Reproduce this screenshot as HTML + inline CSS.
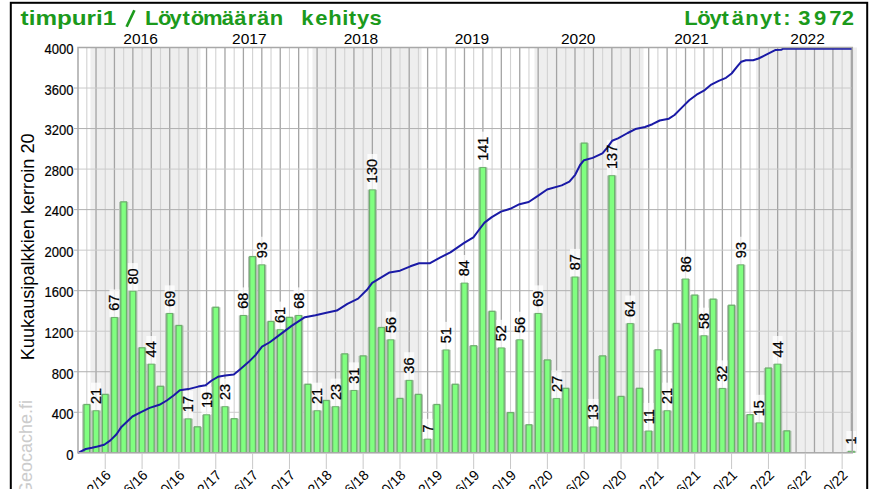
<!DOCTYPE html><html><head><meta charset="utf-8"><style>html,body{margin:0;padding:0;background:#fff;width:885px;height:489px;overflow:hidden}svg{display:block}text{font-family:"Liberation Sans",sans-serif}</style></head><body>
<svg width="885" height="489" viewBox="0 0 885 489">
<rect x="0" y="0" width="885" height="489" fill="#fff"/>
<rect x="10.8" y="2.8" width="856.4" height="600" fill="none" stroke="#000" stroke-width="2"/>
<text transform="translate(145.04,24.9) scale(1.100,1)" font-size="20.0" font-weight="bold" fill="#1c9a1c">L</text>
<text transform="translate(158.09,24.9) scale(1.100,1)" font-size="20.0" font-weight="bold" fill="#1c9a1c">ö</text>
<text transform="translate(169.48,24.9) scale(1.100,1)" font-size="20.0" font-weight="bold" fill="#1c9a1c">y</text>
<text transform="translate(182.43,24.9) scale(1.100,1)" font-size="20.0" font-weight="bold" fill="#1c9a1c">t</text>
<text transform="translate(190.64,24.9) scale(1.100,1)" font-size="20.0" font-weight="bold" fill="#1c9a1c">ö</text>
<text transform="translate(202.91,24.9) scale(1.100,1)" font-size="20.0" font-weight="bold" fill="#1c9a1c">m</text>
<text transform="translate(221.66,24.9) scale(1.100,1)" font-size="20.0" font-weight="bold" fill="#1c9a1c">ä</text>
<text transform="translate(234.31,24.9) scale(1.100,1)" font-size="20.0" font-weight="bold" fill="#1c9a1c">ä</text>
<text transform="translate(247.67,24.9) scale(1.100,1)" font-size="20.0" font-weight="bold" fill="#1c9a1c">r</text>
<text transform="translate(256.91,24.9) scale(1.100,1)" font-size="20.0" font-weight="bold" fill="#1c9a1c">ä</text>
<text transform="translate(269.79,24.9) scale(1.100,1)" font-size="20.0" font-weight="bold" fill="#1c9a1c">n</text>
<text transform="translate(301.36,24.9) scale(1.100,1)" font-size="20.0" font-weight="bold" fill="#1c9a1c">k</text>
<text transform="translate(315.28,24.9) scale(1.100,1)" font-size="20.0" font-weight="bold" fill="#1c9a1c">e</text>
<text transform="translate(328.36,24.9) scale(1.100,1)" font-size="20.0" font-weight="bold" fill="#1c9a1c">h</text>
<text transform="translate(342.26,24.9) scale(1.100,1)" font-size="20.0" font-weight="bold" fill="#1c9a1c">i</text>
<text transform="translate(348.83,24.9) scale(1.100,1)" font-size="20.0" font-weight="bold" fill="#1c9a1c">t</text>
<text transform="translate(357.03,24.9) scale(1.100,1)" font-size="20.0" font-weight="bold" fill="#1c9a1c">y</text>
<text transform="translate(369.61,24.9) scale(1.100,1)" font-size="20.0" font-weight="bold" fill="#1c9a1c">s</text>
<text transform="translate(684.34,24.9) scale(1.100,1)" font-size="20.0" font-weight="bold" fill="#1c9a1c">L</text>
<text transform="translate(697.19,24.9) scale(1.100,1)" font-size="20.0" font-weight="bold" fill="#1c9a1c">ö</text>
<text transform="translate(709.43,24.9) scale(1.100,1)" font-size="20.0" font-weight="bold" fill="#1c9a1c">y</text>
<text transform="translate(721.38,24.9) scale(1.100,1)" font-size="20.0" font-weight="bold" fill="#1c9a1c">t</text>
<text transform="translate(731.81,24.9) scale(1.100,1)" font-size="20.0" font-weight="bold" fill="#1c9a1c">ä</text>
<text transform="translate(745.24,24.9) scale(1.100,1)" font-size="20.0" font-weight="bold" fill="#1c9a1c">n</text>
<text transform="translate(760.03,24.9) scale(1.100,1)" font-size="20.0" font-weight="bold" fill="#1c9a1c">y</text>
<text transform="translate(773.53,24.9) scale(1.100,1)" font-size="20.0" font-weight="bold" fill="#1c9a1c">t</text>
<text transform="translate(783.29,24.9) scale(1.100,1)" font-size="20.0" font-weight="bold" fill="#1c9a1c">:</text>
<text transform="translate(798.31,24.9) scale(1.100,1)" font-size="20.0" font-weight="bold" fill="#1c9a1c">3</text>
<text transform="translate(813.93,24.9) scale(1.100,1)" font-size="20.0" font-weight="bold" fill="#1c9a1c">9</text>
<text transform="translate(829.31,24.9) scale(1.100,1)" font-size="20.0" font-weight="bold" fill="#1c9a1c">7</text>
<text transform="translate(841.76,24.9) scale(1.100,1)" font-size="20.0" font-weight="bold" fill="#1c9a1c">2</text>
<text x="20.60" y="24.9" font-size="20" font-weight="bold" fill="#1c9a1c" textLength="95.70" lengthAdjust="spacingAndGlyphs">timpuri1</text>
<line x1="126.6" y1="26.8" x2="134.4" y2="10.2" stroke="#1c9a1c" stroke-width="2.7"/>
<rect x="78.0" y="47.5" width="774.3" height="405.3" fill="#fff"/>
<rect x="90.5" y="47.5" width="110.0" height="405.3" fill="#eeeeee"/>
<rect x="312.5" y="47.5" width="109.0" height="405.3" fill="#eeeeee"/>
<rect x="534.5" y="47.5" width="109.0" height="405.3" fill="#eeeeee"/>
<rect x="756" y="47.5" width="101" height="405.3" fill="#eeeeee"/>
<line x1="86.81" y1="47.5" x2="86.81" y2="452.8" stroke="#d2d2d2" stroke-width="1.1"/>
<line x1="96.02" y1="47.5" x2="96.02" y2="452.8" stroke="#a4a4a4" stroke-width="1.3"/>
<line x1="105.23" y1="47.5" x2="105.23" y2="452.8" stroke="#d2d2d2" stroke-width="1.1"/>
<line x1="114.44" y1="47.5" x2="114.44" y2="452.8" stroke="#a4a4a4" stroke-width="1.3"/>
<line x1="123.65" y1="47.5" x2="123.65" y2="452.8" stroke="#d2d2d2" stroke-width="1.1"/>
<line x1="132.86" y1="47.5" x2="132.86" y2="452.8" stroke="#a4a4a4" stroke-width="1.3"/>
<line x1="142.08" y1="47.5" x2="142.08" y2="452.8" stroke="#d2d2d2" stroke-width="1.1"/>
<line x1="151.29" y1="47.5" x2="151.29" y2="452.8" stroke="#a4a4a4" stroke-width="1.3"/>
<line x1="160.50" y1="47.5" x2="160.50" y2="452.8" stroke="#d2d2d2" stroke-width="1.1"/>
<line x1="169.71" y1="47.5" x2="169.71" y2="452.8" stroke="#a4a4a4" stroke-width="1.3"/>
<line x1="178.92" y1="47.5" x2="178.92" y2="452.8" stroke="#d2d2d2" stroke-width="1.1"/>
<line x1="188.13" y1="47.5" x2="188.13" y2="452.8" stroke="#a4a4a4" stroke-width="1.3"/>
<line x1="197.34" y1="47.5" x2="197.34" y2="452.8" stroke="#d2d2d2" stroke-width="1.1"/>
<line x1="206.55" y1="47.5" x2="206.55" y2="452.8" stroke="#a4a4a4" stroke-width="1.3"/>
<line x1="215.77" y1="47.5" x2="215.77" y2="452.8" stroke="#d2d2d2" stroke-width="1.1"/>
<line x1="224.98" y1="47.5" x2="224.98" y2="452.8" stroke="#a4a4a4" stroke-width="1.3"/>
<line x1="234.19" y1="47.5" x2="234.19" y2="452.8" stroke="#d2d2d2" stroke-width="1.1"/>
<line x1="243.40" y1="47.5" x2="243.40" y2="452.8" stroke="#a4a4a4" stroke-width="1.3"/>
<line x1="252.61" y1="47.5" x2="252.61" y2="452.8" stroke="#d2d2d2" stroke-width="1.1"/>
<line x1="261.82" y1="47.5" x2="261.82" y2="452.8" stroke="#a4a4a4" stroke-width="1.3"/>
<line x1="271.03" y1="47.5" x2="271.03" y2="452.8" stroke="#d2d2d2" stroke-width="1.1"/>
<line x1="280.24" y1="47.5" x2="280.24" y2="452.8" stroke="#a4a4a4" stroke-width="1.3"/>
<line x1="289.46" y1="47.5" x2="289.46" y2="452.8" stroke="#d2d2d2" stroke-width="1.1"/>
<line x1="298.67" y1="47.5" x2="298.67" y2="452.8" stroke="#a4a4a4" stroke-width="1.3"/>
<line x1="307.88" y1="47.5" x2="307.88" y2="452.8" stroke="#d2d2d2" stroke-width="1.1"/>
<line x1="317.09" y1="47.5" x2="317.09" y2="452.8" stroke="#a4a4a4" stroke-width="1.3"/>
<line x1="326.30" y1="47.5" x2="326.30" y2="452.8" stroke="#d2d2d2" stroke-width="1.1"/>
<line x1="335.51" y1="47.5" x2="335.51" y2="452.8" stroke="#a4a4a4" stroke-width="1.3"/>
<line x1="344.72" y1="47.5" x2="344.72" y2="452.8" stroke="#d2d2d2" stroke-width="1.1"/>
<line x1="353.93" y1="47.5" x2="353.93" y2="452.8" stroke="#a4a4a4" stroke-width="1.3"/>
<line x1="363.14" y1="47.5" x2="363.14" y2="452.8" stroke="#d2d2d2" stroke-width="1.1"/>
<line x1="372.36" y1="47.5" x2="372.36" y2="452.8" stroke="#a4a4a4" stroke-width="1.3"/>
<line x1="381.57" y1="47.5" x2="381.57" y2="452.8" stroke="#d2d2d2" stroke-width="1.1"/>
<line x1="390.78" y1="47.5" x2="390.78" y2="452.8" stroke="#a4a4a4" stroke-width="1.3"/>
<line x1="399.99" y1="47.5" x2="399.99" y2="452.8" stroke="#d2d2d2" stroke-width="1.1"/>
<line x1="409.20" y1="47.5" x2="409.20" y2="452.8" stroke="#a4a4a4" stroke-width="1.3"/>
<line x1="418.41" y1="47.5" x2="418.41" y2="452.8" stroke="#d2d2d2" stroke-width="1.1"/>
<line x1="427.62" y1="47.5" x2="427.62" y2="452.8" stroke="#a4a4a4" stroke-width="1.3"/>
<line x1="436.83" y1="47.5" x2="436.83" y2="452.8" stroke="#d2d2d2" stroke-width="1.1"/>
<line x1="446.05" y1="47.5" x2="446.05" y2="452.8" stroke="#a4a4a4" stroke-width="1.3"/>
<line x1="455.26" y1="47.5" x2="455.26" y2="452.8" stroke="#d2d2d2" stroke-width="1.1"/>
<line x1="464.47" y1="47.5" x2="464.47" y2="452.8" stroke="#a4a4a4" stroke-width="1.3"/>
<line x1="473.68" y1="47.5" x2="473.68" y2="452.8" stroke="#d2d2d2" stroke-width="1.1"/>
<line x1="482.89" y1="47.5" x2="482.89" y2="452.8" stroke="#a4a4a4" stroke-width="1.3"/>
<line x1="492.10" y1="47.5" x2="492.10" y2="452.8" stroke="#d2d2d2" stroke-width="1.1"/>
<line x1="501.31" y1="47.5" x2="501.31" y2="452.8" stroke="#a4a4a4" stroke-width="1.3"/>
<line x1="510.52" y1="47.5" x2="510.52" y2="452.8" stroke="#d2d2d2" stroke-width="1.1"/>
<line x1="519.74" y1="47.5" x2="519.74" y2="452.8" stroke="#a4a4a4" stroke-width="1.3"/>
<line x1="528.95" y1="47.5" x2="528.95" y2="452.8" stroke="#d2d2d2" stroke-width="1.1"/>
<line x1="538.16" y1="47.5" x2="538.16" y2="452.8" stroke="#a4a4a4" stroke-width="1.3"/>
<line x1="547.37" y1="47.5" x2="547.37" y2="452.8" stroke="#d2d2d2" stroke-width="1.1"/>
<line x1="556.58" y1="47.5" x2="556.58" y2="452.8" stroke="#a4a4a4" stroke-width="1.3"/>
<line x1="565.79" y1="47.5" x2="565.79" y2="452.8" stroke="#d2d2d2" stroke-width="1.1"/>
<line x1="575.00" y1="47.5" x2="575.00" y2="452.8" stroke="#a4a4a4" stroke-width="1.3"/>
<line x1="584.21" y1="47.5" x2="584.21" y2="452.8" stroke="#d2d2d2" stroke-width="1.1"/>
<line x1="593.42" y1="47.5" x2="593.42" y2="452.8" stroke="#a4a4a4" stroke-width="1.3"/>
<line x1="602.64" y1="47.5" x2="602.64" y2="452.8" stroke="#d2d2d2" stroke-width="1.1"/>
<line x1="611.85" y1="47.5" x2="611.85" y2="452.8" stroke="#a4a4a4" stroke-width="1.3"/>
<line x1="621.06" y1="47.5" x2="621.06" y2="452.8" stroke="#d2d2d2" stroke-width="1.1"/>
<line x1="630.27" y1="47.5" x2="630.27" y2="452.8" stroke="#a4a4a4" stroke-width="1.3"/>
<line x1="639.48" y1="47.5" x2="639.48" y2="452.8" stroke="#d2d2d2" stroke-width="1.1"/>
<line x1="648.69" y1="47.5" x2="648.69" y2="452.8" stroke="#a4a4a4" stroke-width="1.3"/>
<line x1="657.90" y1="47.5" x2="657.90" y2="452.8" stroke="#d2d2d2" stroke-width="1.1"/>
<line x1="667.11" y1="47.5" x2="667.11" y2="452.8" stroke="#a4a4a4" stroke-width="1.3"/>
<line x1="676.33" y1="47.5" x2="676.33" y2="452.8" stroke="#d2d2d2" stroke-width="1.1"/>
<line x1="685.54" y1="47.5" x2="685.54" y2="452.8" stroke="#a4a4a4" stroke-width="1.3"/>
<line x1="694.75" y1="47.5" x2="694.75" y2="452.8" stroke="#d2d2d2" stroke-width="1.1"/>
<line x1="703.96" y1="47.5" x2="703.96" y2="452.8" stroke="#a4a4a4" stroke-width="1.3"/>
<line x1="713.17" y1="47.5" x2="713.17" y2="452.8" stroke="#d2d2d2" stroke-width="1.1"/>
<line x1="722.38" y1="47.5" x2="722.38" y2="452.8" stroke="#a4a4a4" stroke-width="1.3"/>
<line x1="731.59" y1="47.5" x2="731.59" y2="452.8" stroke="#d2d2d2" stroke-width="1.1"/>
<line x1="740.80" y1="47.5" x2="740.80" y2="452.8" stroke="#a4a4a4" stroke-width="1.3"/>
<line x1="750.02" y1="47.5" x2="750.02" y2="452.8" stroke="#d2d2d2" stroke-width="1.1"/>
<line x1="759.23" y1="47.5" x2="759.23" y2="452.8" stroke="#a4a4a4" stroke-width="1.3"/>
<line x1="768.44" y1="47.5" x2="768.44" y2="452.8" stroke="#d2d2d2" stroke-width="1.1"/>
<line x1="777.65" y1="47.5" x2="777.65" y2="452.8" stroke="#a4a4a4" stroke-width="1.3"/>
<line x1="786.86" y1="47.5" x2="786.86" y2="452.8" stroke="#d2d2d2" stroke-width="1.1"/>
<line x1="796.07" y1="47.5" x2="796.07" y2="452.8" stroke="#a4a4a4" stroke-width="1.3"/>
<line x1="805.28" y1="47.5" x2="805.28" y2="452.8" stroke="#d2d2d2" stroke-width="1.1"/>
<line x1="814.49" y1="47.5" x2="814.49" y2="452.8" stroke="#a4a4a4" stroke-width="1.3"/>
<line x1="823.70" y1="47.5" x2="823.70" y2="452.8" stroke="#d2d2d2" stroke-width="1.1"/>
<line x1="832.92" y1="47.5" x2="832.92" y2="452.8" stroke="#a4a4a4" stroke-width="1.3"/>
<line x1="842.13" y1="47.5" x2="842.13" y2="452.8" stroke="#d2d2d2" stroke-width="1.1"/>
<line x1="851.34" y1="47.5" x2="851.34" y2="452.8" stroke="#a4a4a4" stroke-width="1.3"/>
<line x1="78.0" y1="412.27" x2="852.3" y2="412.27" stroke="#cacaca" stroke-width="1"/>
<line x1="74.0" y1="412.27" x2="78.0" y2="412.27" stroke="#b4b4b4" stroke-width="1"/>
<line x1="78.0" y1="371.74" x2="852.3" y2="371.74" stroke="#b0b0b0" stroke-width="1"/>
<line x1="74.0" y1="371.74" x2="78.0" y2="371.74" stroke="#b4b4b4" stroke-width="1"/>
<line x1="78.0" y1="331.21" x2="852.3" y2="331.21" stroke="#cacaca" stroke-width="1"/>
<line x1="74.0" y1="331.21" x2="78.0" y2="331.21" stroke="#b4b4b4" stroke-width="1"/>
<line x1="78.0" y1="290.68" x2="852.3" y2="290.68" stroke="#b0b0b0" stroke-width="1"/>
<line x1="74.0" y1="290.68" x2="78.0" y2="290.68" stroke="#b4b4b4" stroke-width="1"/>
<line x1="78.0" y1="250.15" x2="852.3" y2="250.15" stroke="#cacaca" stroke-width="1"/>
<line x1="74.0" y1="250.15" x2="78.0" y2="250.15" stroke="#b4b4b4" stroke-width="1"/>
<line x1="78.0" y1="209.62" x2="852.3" y2="209.62" stroke="#b0b0b0" stroke-width="1"/>
<line x1="74.0" y1="209.62" x2="78.0" y2="209.62" stroke="#b4b4b4" stroke-width="1"/>
<line x1="78.0" y1="169.09" x2="852.3" y2="169.09" stroke="#cacaca" stroke-width="1"/>
<line x1="74.0" y1="169.09" x2="78.0" y2="169.09" stroke="#b4b4b4" stroke-width="1"/>
<line x1="78.0" y1="128.56" x2="852.3" y2="128.56" stroke="#b0b0b0" stroke-width="1"/>
<line x1="74.0" y1="128.56" x2="78.0" y2="128.56" stroke="#b4b4b4" stroke-width="1"/>
<line x1="78.0" y1="88.03" x2="852.3" y2="88.03" stroke="#cacaca" stroke-width="1"/>
<line x1="74.0" y1="88.03" x2="78.0" y2="88.03" stroke="#b4b4b4" stroke-width="1"/>
<rect x="82.21" y="404.56" width="9.2" height="48.24" fill="#b4c0b4"/>
<rect x="83.36" y="403.86" width="6.9" height="48.94" fill="#6cb06c"/>
<rect x="84.61" y="405.16" width="4.4" height="47.64" fill="#80ff80"/>
<rect x="91.42" y="410.64" width="9.2" height="42.16" fill="#b4c0b4"/>
<rect x="92.57" y="409.94" width="6.9" height="42.86" fill="#6cb06c"/>
<rect x="93.82" y="411.24" width="4.4" height="41.56" fill="#80ff80"/>
<rect x="100.63" y="394.43" width="9.2" height="58.37" fill="#b4c0b4"/>
<rect x="101.78" y="393.73" width="6.9" height="59.07" fill="#6cb06c"/>
<rect x="103.03" y="395.03" width="4.4" height="57.77" fill="#80ff80"/>
<rect x="109.84" y="317.42" width="9.2" height="135.38" fill="#b4c0b4"/>
<rect x="110.99" y="316.72" width="6.9" height="136.08" fill="#6cb06c"/>
<rect x="112.24" y="318.02" width="4.4" height="134.78" fill="#80ff80"/>
<rect x="119.05" y="201.91" width="9.2" height="250.89" fill="#b4c0b4"/>
<rect x="120.20" y="201.21" width="6.9" height="251.59" fill="#6cb06c"/>
<rect x="121.45" y="202.51" width="4.4" height="250.29" fill="#80ff80"/>
<rect x="128.26" y="291.08" width="9.2" height="161.72" fill="#b4c0b4"/>
<rect x="129.41" y="290.38" width="6.9" height="162.42" fill="#6cb06c"/>
<rect x="130.66" y="291.68" width="4.4" height="161.12" fill="#80ff80"/>
<rect x="137.48" y="347.82" width="9.2" height="104.98" fill="#b4c0b4"/>
<rect x="138.63" y="347.12" width="6.9" height="105.68" fill="#6cb06c"/>
<rect x="139.88" y="348.42" width="4.4" height="104.38" fill="#80ff80"/>
<rect x="146.69" y="364.03" width="9.2" height="88.77" fill="#b4c0b4"/>
<rect x="147.84" y="363.33" width="6.9" height="89.47" fill="#6cb06c"/>
<rect x="149.09" y="364.63" width="4.4" height="88.17" fill="#80ff80"/>
<rect x="155.90" y="386.33" width="9.2" height="66.47" fill="#b4c0b4"/>
<rect x="157.05" y="385.63" width="6.9" height="67.17" fill="#6cb06c"/>
<rect x="158.30" y="386.93" width="4.4" height="65.87" fill="#80ff80"/>
<rect x="165.11" y="313.37" width="9.2" height="139.43" fill="#b4c0b4"/>
<rect x="166.26" y="312.67" width="6.9" height="140.13" fill="#6cb06c"/>
<rect x="167.51" y="313.97" width="4.4" height="138.83" fill="#80ff80"/>
<rect x="174.32" y="325.53" width="9.2" height="127.27" fill="#b4c0b4"/>
<rect x="175.47" y="324.83" width="6.9" height="127.97" fill="#6cb06c"/>
<rect x="176.72" y="326.13" width="4.4" height="126.67" fill="#80ff80"/>
<rect x="183.53" y="418.75" width="9.2" height="34.05" fill="#b4c0b4"/>
<rect x="184.68" y="418.05" width="6.9" height="34.75" fill="#6cb06c"/>
<rect x="185.93" y="419.35" width="4.4" height="33.45" fill="#80ff80"/>
<rect x="192.74" y="426.86" width="9.2" height="25.94" fill="#b4c0b4"/>
<rect x="193.89" y="426.16" width="6.9" height="26.64" fill="#6cb06c"/>
<rect x="195.14" y="427.46" width="4.4" height="25.34" fill="#80ff80"/>
<rect x="201.95" y="414.70" width="9.2" height="38.10" fill="#b4c0b4"/>
<rect x="203.10" y="414.00" width="6.9" height="38.80" fill="#6cb06c"/>
<rect x="204.35" y="415.30" width="4.4" height="37.50" fill="#80ff80"/>
<rect x="211.17" y="307.29" width="9.2" height="145.51" fill="#b4c0b4"/>
<rect x="212.32" y="306.59" width="6.9" height="146.21" fill="#6cb06c"/>
<rect x="213.57" y="307.89" width="4.4" height="144.91" fill="#80ff80"/>
<rect x="220.38" y="406.59" width="9.2" height="46.21" fill="#b4c0b4"/>
<rect x="221.53" y="405.89" width="6.9" height="46.91" fill="#6cb06c"/>
<rect x="222.78" y="407.19" width="4.4" height="45.61" fill="#80ff80"/>
<rect x="229.59" y="418.75" width="9.2" height="34.05" fill="#b4c0b4"/>
<rect x="230.74" y="418.05" width="6.9" height="34.75" fill="#6cb06c"/>
<rect x="231.99" y="419.35" width="4.4" height="33.45" fill="#80ff80"/>
<rect x="238.80" y="315.40" width="9.2" height="137.40" fill="#b4c0b4"/>
<rect x="239.95" y="314.70" width="6.9" height="138.10" fill="#6cb06c"/>
<rect x="241.20" y="316.00" width="4.4" height="136.80" fill="#80ff80"/>
<rect x="248.01" y="256.63" width="9.2" height="196.17" fill="#b4c0b4"/>
<rect x="249.16" y="255.93" width="6.9" height="196.87" fill="#6cb06c"/>
<rect x="250.41" y="257.23" width="4.4" height="195.57" fill="#80ff80"/>
<rect x="257.22" y="264.74" width="9.2" height="188.06" fill="#b4c0b4"/>
<rect x="258.37" y="264.04" width="6.9" height="188.76" fill="#6cb06c"/>
<rect x="259.62" y="265.34" width="4.4" height="187.46" fill="#80ff80"/>
<rect x="266.43" y="321.48" width="9.2" height="131.32" fill="#b4c0b4"/>
<rect x="267.58" y="320.78" width="6.9" height="132.02" fill="#6cb06c"/>
<rect x="268.83" y="322.08" width="4.4" height="130.72" fill="#80ff80"/>
<rect x="275.64" y="329.58" width="9.2" height="123.22" fill="#b4c0b4"/>
<rect x="276.79" y="328.88" width="6.9" height="123.92" fill="#6cb06c"/>
<rect x="278.04" y="330.18" width="4.4" height="122.62" fill="#80ff80"/>
<rect x="284.86" y="317.42" width="9.2" height="135.38" fill="#b4c0b4"/>
<rect x="286.01" y="316.72" width="6.9" height="136.08" fill="#6cb06c"/>
<rect x="287.26" y="318.02" width="4.4" height="134.78" fill="#80ff80"/>
<rect x="294.07" y="315.40" width="9.2" height="137.40" fill="#b4c0b4"/>
<rect x="295.22" y="314.70" width="6.9" height="138.10" fill="#6cb06c"/>
<rect x="296.47" y="316.00" width="4.4" height="136.80" fill="#80ff80"/>
<rect x="303.28" y="384.30" width="9.2" height="68.50" fill="#b4c0b4"/>
<rect x="304.43" y="383.60" width="6.9" height="69.20" fill="#6cb06c"/>
<rect x="305.68" y="384.90" width="4.4" height="67.90" fill="#80ff80"/>
<rect x="312.49" y="410.64" width="9.2" height="42.16" fill="#b4c0b4"/>
<rect x="313.64" y="409.94" width="6.9" height="42.86" fill="#6cb06c"/>
<rect x="314.89" y="411.24" width="4.4" height="41.56" fill="#80ff80"/>
<rect x="321.70" y="400.51" width="9.2" height="52.29" fill="#b4c0b4"/>
<rect x="322.85" y="399.81" width="6.9" height="52.99" fill="#6cb06c"/>
<rect x="324.10" y="401.11" width="4.4" height="51.69" fill="#80ff80"/>
<rect x="330.91" y="406.59" width="9.2" height="46.21" fill="#b4c0b4"/>
<rect x="332.06" y="405.89" width="6.9" height="46.91" fill="#6cb06c"/>
<rect x="333.31" y="407.19" width="4.4" height="45.61" fill="#80ff80"/>
<rect x="340.12" y="353.90" width="9.2" height="98.90" fill="#b4c0b4"/>
<rect x="341.27" y="353.20" width="6.9" height="99.60" fill="#6cb06c"/>
<rect x="342.52" y="354.50" width="4.4" height="98.30" fill="#80ff80"/>
<rect x="349.33" y="390.38" width="9.2" height="62.42" fill="#b4c0b4"/>
<rect x="350.48" y="389.68" width="6.9" height="63.12" fill="#6cb06c"/>
<rect x="351.73" y="390.98" width="4.4" height="61.82" fill="#80ff80"/>
<rect x="358.54" y="355.93" width="9.2" height="96.87" fill="#b4c0b4"/>
<rect x="359.69" y="355.23" width="6.9" height="97.57" fill="#6cb06c"/>
<rect x="360.94" y="356.53" width="4.4" height="96.27" fill="#80ff80"/>
<rect x="367.76" y="189.76" width="9.2" height="263.05" fill="#b4c0b4"/>
<rect x="368.91" y="189.06" width="6.9" height="263.75" fill="#6cb06c"/>
<rect x="370.16" y="190.36" width="4.4" height="262.44" fill="#80ff80"/>
<rect x="376.97" y="327.56" width="9.2" height="125.24" fill="#b4c0b4"/>
<rect x="378.12" y="326.86" width="6.9" height="125.94" fill="#6cb06c"/>
<rect x="379.37" y="328.16" width="4.4" height="124.64" fill="#80ff80"/>
<rect x="386.18" y="339.72" width="9.2" height="113.08" fill="#b4c0b4"/>
<rect x="387.33" y="339.02" width="6.9" height="113.78" fill="#6cb06c"/>
<rect x="388.58" y="340.32" width="4.4" height="112.48" fill="#80ff80"/>
<rect x="395.39" y="398.48" width="9.2" height="54.32" fill="#b4c0b4"/>
<rect x="396.54" y="397.78" width="6.9" height="55.02" fill="#6cb06c"/>
<rect x="397.79" y="399.08" width="4.4" height="53.72" fill="#80ff80"/>
<rect x="404.60" y="380.25" width="9.2" height="72.55" fill="#b4c0b4"/>
<rect x="405.75" y="379.55" width="6.9" height="73.25" fill="#6cb06c"/>
<rect x="407.00" y="380.85" width="4.4" height="71.95" fill="#80ff80"/>
<rect x="413.81" y="394.43" width="9.2" height="58.37" fill="#b4c0b4"/>
<rect x="414.96" y="393.73" width="6.9" height="59.07" fill="#6cb06c"/>
<rect x="416.21" y="395.03" width="4.4" height="57.77" fill="#80ff80"/>
<rect x="423.02" y="439.01" width="9.2" height="13.79" fill="#b4c0b4"/>
<rect x="424.17" y="438.31" width="6.9" height="14.49" fill="#6cb06c"/>
<rect x="425.42" y="439.61" width="4.4" height="13.19" fill="#80ff80"/>
<rect x="432.23" y="404.56" width="9.2" height="48.24" fill="#b4c0b4"/>
<rect x="433.38" y="403.86" width="6.9" height="48.94" fill="#6cb06c"/>
<rect x="434.63" y="405.16" width="4.4" height="47.64" fill="#80ff80"/>
<rect x="441.45" y="349.85" width="9.2" height="102.95" fill="#b4c0b4"/>
<rect x="442.60" y="349.15" width="6.9" height="103.65" fill="#6cb06c"/>
<rect x="443.85" y="350.45" width="4.4" height="102.35" fill="#80ff80"/>
<rect x="450.66" y="384.30" width="9.2" height="68.50" fill="#b4c0b4"/>
<rect x="451.81" y="383.60" width="6.9" height="69.20" fill="#6cb06c"/>
<rect x="453.06" y="384.90" width="4.4" height="67.90" fill="#80ff80"/>
<rect x="459.87" y="282.97" width="9.2" height="169.83" fill="#b4c0b4"/>
<rect x="461.02" y="282.27" width="6.9" height="170.53" fill="#6cb06c"/>
<rect x="462.27" y="283.57" width="4.4" height="169.23" fill="#80ff80"/>
<rect x="469.08" y="345.80" width="9.2" height="107.00" fill="#b4c0b4"/>
<rect x="470.23" y="345.10" width="6.9" height="107.70" fill="#6cb06c"/>
<rect x="471.48" y="346.40" width="4.4" height="106.40" fill="#80ff80"/>
<rect x="478.29" y="167.46" width="9.2" height="285.34" fill="#b4c0b4"/>
<rect x="479.44" y="166.76" width="6.9" height="286.04" fill="#6cb06c"/>
<rect x="480.69" y="168.06" width="4.4" height="284.74" fill="#80ff80"/>
<rect x="487.50" y="311.35" width="9.2" height="141.45" fill="#b4c0b4"/>
<rect x="488.65" y="310.65" width="6.9" height="142.15" fill="#6cb06c"/>
<rect x="489.90" y="311.95" width="4.4" height="140.85" fill="#80ff80"/>
<rect x="496.71" y="347.82" width="9.2" height="104.98" fill="#b4c0b4"/>
<rect x="497.86" y="347.12" width="6.9" height="105.68" fill="#6cb06c"/>
<rect x="499.11" y="348.42" width="4.4" height="104.38" fill="#80ff80"/>
<rect x="505.92" y="412.67" width="9.2" height="40.13" fill="#b4c0b4"/>
<rect x="507.07" y="411.97" width="6.9" height="40.83" fill="#6cb06c"/>
<rect x="508.32" y="413.27" width="4.4" height="39.53" fill="#80ff80"/>
<rect x="515.14" y="339.72" width="9.2" height="113.08" fill="#b4c0b4"/>
<rect x="516.29" y="339.02" width="6.9" height="113.78" fill="#6cb06c"/>
<rect x="517.54" y="340.32" width="4.4" height="112.48" fill="#80ff80"/>
<rect x="524.35" y="424.83" width="9.2" height="27.97" fill="#b4c0b4"/>
<rect x="525.50" y="424.13" width="6.9" height="28.67" fill="#6cb06c"/>
<rect x="526.75" y="425.43" width="4.4" height="27.37" fill="#80ff80"/>
<rect x="533.56" y="313.37" width="9.2" height="139.43" fill="#b4c0b4"/>
<rect x="534.71" y="312.67" width="6.9" height="140.13" fill="#6cb06c"/>
<rect x="535.96" y="313.97" width="4.4" height="138.83" fill="#80ff80"/>
<rect x="542.77" y="359.98" width="9.2" height="92.82" fill="#b4c0b4"/>
<rect x="543.92" y="359.28" width="6.9" height="93.52" fill="#6cb06c"/>
<rect x="545.17" y="360.58" width="4.4" height="92.22" fill="#80ff80"/>
<rect x="551.98" y="398.48" width="9.2" height="54.32" fill="#b4c0b4"/>
<rect x="553.13" y="397.78" width="6.9" height="55.02" fill="#6cb06c"/>
<rect x="554.38" y="399.08" width="4.4" height="53.72" fill="#80ff80"/>
<rect x="561.19" y="388.35" width="9.2" height="64.45" fill="#b4c0b4"/>
<rect x="562.34" y="387.65" width="6.9" height="65.15" fill="#6cb06c"/>
<rect x="563.59" y="388.95" width="4.4" height="63.85" fill="#80ff80"/>
<rect x="570.40" y="276.89" width="9.2" height="175.91" fill="#b4c0b4"/>
<rect x="571.55" y="276.19" width="6.9" height="176.61" fill="#6cb06c"/>
<rect x="572.80" y="277.49" width="4.4" height="175.31" fill="#80ff80"/>
<rect x="579.61" y="143.15" width="9.2" height="309.65" fill="#b4c0b4"/>
<rect x="580.76" y="142.45" width="6.9" height="310.35" fill="#6cb06c"/>
<rect x="582.01" y="143.75" width="4.4" height="309.05" fill="#80ff80"/>
<rect x="588.82" y="426.86" width="9.2" height="25.94" fill="#b4c0b4"/>
<rect x="589.97" y="426.16" width="6.9" height="26.64" fill="#6cb06c"/>
<rect x="591.22" y="427.46" width="4.4" height="25.34" fill="#80ff80"/>
<rect x="598.04" y="355.93" width="9.2" height="96.87" fill="#b4c0b4"/>
<rect x="599.19" y="355.23" width="6.9" height="97.57" fill="#6cb06c"/>
<rect x="600.44" y="356.53" width="4.4" height="96.27" fill="#80ff80"/>
<rect x="607.25" y="175.57" width="9.2" height="277.23" fill="#b4c0b4"/>
<rect x="608.40" y="174.87" width="6.9" height="277.93" fill="#6cb06c"/>
<rect x="609.65" y="176.17" width="4.4" height="276.63" fill="#80ff80"/>
<rect x="616.46" y="396.46" width="9.2" height="56.34" fill="#b4c0b4"/>
<rect x="617.61" y="395.76" width="6.9" height="57.04" fill="#6cb06c"/>
<rect x="618.86" y="397.06" width="4.4" height="55.74" fill="#80ff80"/>
<rect x="625.67" y="323.50" width="9.2" height="129.30" fill="#b4c0b4"/>
<rect x="626.82" y="322.80" width="6.9" height="130.00" fill="#6cb06c"/>
<rect x="628.07" y="324.10" width="4.4" height="128.70" fill="#80ff80"/>
<rect x="634.88" y="388.35" width="9.2" height="64.45" fill="#b4c0b4"/>
<rect x="636.03" y="387.65" width="6.9" height="65.15" fill="#6cb06c"/>
<rect x="637.28" y="388.95" width="4.4" height="63.85" fill="#80ff80"/>
<rect x="644.09" y="430.91" width="9.2" height="21.89" fill="#b4c0b4"/>
<rect x="645.24" y="430.21" width="6.9" height="22.59" fill="#6cb06c"/>
<rect x="646.49" y="431.51" width="4.4" height="21.29" fill="#80ff80"/>
<rect x="653.30" y="349.85" width="9.2" height="102.95" fill="#b4c0b4"/>
<rect x="654.45" y="349.15" width="6.9" height="103.65" fill="#6cb06c"/>
<rect x="655.70" y="350.45" width="4.4" height="102.35" fill="#80ff80"/>
<rect x="662.51" y="410.64" width="9.2" height="42.16" fill="#b4c0b4"/>
<rect x="663.66" y="409.94" width="6.9" height="42.86" fill="#6cb06c"/>
<rect x="664.91" y="411.24" width="4.4" height="41.56" fill="#80ff80"/>
<rect x="671.73" y="323.50" width="9.2" height="129.30" fill="#b4c0b4"/>
<rect x="672.88" y="322.80" width="6.9" height="130.00" fill="#6cb06c"/>
<rect x="674.13" y="324.10" width="4.4" height="128.70" fill="#80ff80"/>
<rect x="680.94" y="278.92" width="9.2" height="173.88" fill="#b4c0b4"/>
<rect x="682.09" y="278.22" width="6.9" height="174.58" fill="#6cb06c"/>
<rect x="683.34" y="279.52" width="4.4" height="173.28" fill="#80ff80"/>
<rect x="690.15" y="295.13" width="9.2" height="157.67" fill="#b4c0b4"/>
<rect x="691.30" y="294.43" width="6.9" height="158.37" fill="#6cb06c"/>
<rect x="692.55" y="295.73" width="4.4" height="157.07" fill="#80ff80"/>
<rect x="699.36" y="335.66" width="9.2" height="117.14" fill="#b4c0b4"/>
<rect x="700.51" y="334.96" width="6.9" height="117.84" fill="#6cb06c"/>
<rect x="701.76" y="336.26" width="4.4" height="116.54" fill="#80ff80"/>
<rect x="708.57" y="299.19" width="9.2" height="153.61" fill="#b4c0b4"/>
<rect x="709.72" y="298.49" width="6.9" height="154.31" fill="#6cb06c"/>
<rect x="710.97" y="299.79" width="4.4" height="153.01" fill="#80ff80"/>
<rect x="717.78" y="388.35" width="9.2" height="64.45" fill="#b4c0b4"/>
<rect x="718.93" y="387.65" width="6.9" height="65.15" fill="#6cb06c"/>
<rect x="720.18" y="388.95" width="4.4" height="63.85" fill="#80ff80"/>
<rect x="726.99" y="305.27" width="9.2" height="147.53" fill="#b4c0b4"/>
<rect x="728.14" y="304.57" width="6.9" height="148.23" fill="#6cb06c"/>
<rect x="729.39" y="305.87" width="4.4" height="146.93" fill="#80ff80"/>
<rect x="736.20" y="264.74" width="9.2" height="188.06" fill="#b4c0b4"/>
<rect x="737.35" y="264.04" width="6.9" height="188.76" fill="#6cb06c"/>
<rect x="738.60" y="265.34" width="4.4" height="187.46" fill="#80ff80"/>
<rect x="745.42" y="414.70" width="9.2" height="38.10" fill="#b4c0b4"/>
<rect x="746.57" y="414.00" width="6.9" height="38.80" fill="#6cb06c"/>
<rect x="747.82" y="415.30" width="4.4" height="37.50" fill="#80ff80"/>
<rect x="754.63" y="422.80" width="9.2" height="30.00" fill="#b4c0b4"/>
<rect x="755.78" y="422.10" width="6.9" height="30.70" fill="#6cb06c"/>
<rect x="757.03" y="423.40" width="4.4" height="29.40" fill="#80ff80"/>
<rect x="763.84" y="368.09" width="9.2" height="84.71" fill="#b4c0b4"/>
<rect x="764.99" y="367.39" width="6.9" height="85.41" fill="#6cb06c"/>
<rect x="766.24" y="368.69" width="4.4" height="84.11" fill="#80ff80"/>
<rect x="773.05" y="364.03" width="9.2" height="88.77" fill="#b4c0b4"/>
<rect x="774.20" y="363.33" width="6.9" height="89.47" fill="#6cb06c"/>
<rect x="775.45" y="364.63" width="4.4" height="88.17" fill="#80ff80"/>
<rect x="782.26" y="430.91" width="9.2" height="21.89" fill="#b4c0b4"/>
<rect x="783.41" y="430.21" width="6.9" height="22.59" fill="#6cb06c"/>
<rect x="784.66" y="431.51" width="4.4" height="21.29" fill="#80ff80"/>
<rect x="846.74" y="451.17" width="9.2" height="1.63" fill="#b4c0b4"/>
<rect x="847.89" y="450.47" width="6.9" height="2.33" fill="#6cb06c"/>
<rect x="849.14" y="451.77" width="4.4" height="1.03" fill="#80ff80"/>
<rect x="91.02" y="382.64" width="10.0" height="27.60" fill="#fff" fill-opacity="0.75"/>
<rect x="109.44" y="289.42" width="10.0" height="27.60" fill="#fff" fill-opacity="0.75"/>
<rect x="127.86" y="263.08" width="10.0" height="27.60" fill="#fff" fill-opacity="0.75"/>
<rect x="146.29" y="336.03" width="10.0" height="27.60" fill="#fff" fill-opacity="0.75"/>
<rect x="164.71" y="285.37" width="10.0" height="27.60" fill="#fff" fill-opacity="0.75"/>
<rect x="183.13" y="390.75" width="10.0" height="27.60" fill="#fff" fill-opacity="0.75"/>
<rect x="201.55" y="386.70" width="10.0" height="27.60" fill="#fff" fill-opacity="0.75"/>
<rect x="219.98" y="378.59" width="10.0" height="27.60" fill="#fff" fill-opacity="0.75"/>
<rect x="238.40" y="287.40" width="10.0" height="27.60" fill="#fff" fill-opacity="0.75"/>
<rect x="256.82" y="236.74" width="10.0" height="27.60" fill="#fff" fill-opacity="0.75"/>
<rect x="275.24" y="301.58" width="10.0" height="27.60" fill="#fff" fill-opacity="0.75"/>
<rect x="293.67" y="287.40" width="10.0" height="27.60" fill="#fff" fill-opacity="0.75"/>
<rect x="312.09" y="382.64" width="10.0" height="27.60" fill="#fff" fill-opacity="0.75"/>
<rect x="330.51" y="378.59" width="10.0" height="27.60" fill="#fff" fill-opacity="0.75"/>
<rect x="348.93" y="362.38" width="10.0" height="27.60" fill="#fff" fill-opacity="0.75"/>
<rect x="367.36" y="153.96" width="10.0" height="35.40" fill="#fff" fill-opacity="0.75"/>
<rect x="385.78" y="311.72" width="10.0" height="27.60" fill="#fff" fill-opacity="0.75"/>
<rect x="404.20" y="352.25" width="10.0" height="27.60" fill="#fff" fill-opacity="0.75"/>
<rect x="422.62" y="418.81" width="10.0" height="19.80" fill="#fff" fill-opacity="0.75"/>
<rect x="441.05" y="321.85" width="10.0" height="27.60" fill="#fff" fill-opacity="0.75"/>
<rect x="459.47" y="254.97" width="10.0" height="27.60" fill="#fff" fill-opacity="0.75"/>
<rect x="477.89" y="131.66" width="10.0" height="35.40" fill="#fff" fill-opacity="0.75"/>
<rect x="496.31" y="319.82" width="10.0" height="27.60" fill="#fff" fill-opacity="0.75"/>
<rect x="514.74" y="311.72" width="10.0" height="27.60" fill="#fff" fill-opacity="0.75"/>
<rect x="533.16" y="285.37" width="10.0" height="27.60" fill="#fff" fill-opacity="0.75"/>
<rect x="551.58" y="370.48" width="10.0" height="27.60" fill="#fff" fill-opacity="0.75"/>
<rect x="570.00" y="248.89" width="10.0" height="27.60" fill="#fff" fill-opacity="0.75"/>
<rect x="588.42" y="398.86" width="10.0" height="27.60" fill="#fff" fill-opacity="0.75"/>
<rect x="606.85" y="139.77" width="10.0" height="35.40" fill="#fff" fill-opacity="0.75"/>
<rect x="625.27" y="295.50" width="10.0" height="27.60" fill="#fff" fill-opacity="0.75"/>
<rect x="643.69" y="402.91" width="10.0" height="27.60" fill="#fff" fill-opacity="0.75"/>
<rect x="662.11" y="382.64" width="10.0" height="27.60" fill="#fff" fill-opacity="0.75"/>
<rect x="680.54" y="250.92" width="10.0" height="27.60" fill="#fff" fill-opacity="0.75"/>
<rect x="698.96" y="307.66" width="10.0" height="27.60" fill="#fff" fill-opacity="0.75"/>
<rect x="717.38" y="360.35" width="10.0" height="27.60" fill="#fff" fill-opacity="0.75"/>
<rect x="735.80" y="236.74" width="10.0" height="27.60" fill="#fff" fill-opacity="0.75"/>
<rect x="754.23" y="394.80" width="10.0" height="27.60" fill="#fff" fill-opacity="0.75"/>
<rect x="772.65" y="336.03" width="10.0" height="27.60" fill="#fff" fill-opacity="0.75"/>
<rect x="846.34" y="430.97" width="10.0" height="19.80" fill="#fff" fill-opacity="0.75"/>
<polyline fill="none" stroke="#1a1aa6" stroke-width="2.0" stroke-linejoin="round" points="78.00,452.80 85.80,449.00 92.00,447.80 97.50,446.50 104.20,444.70 110.40,440.40 116.50,434.30 121.40,426.90 132.40,416.50 141.00,412.20 149.60,407.90 159.40,404.80 166.80,400.50 174.20,395.00 179.80,390.30 188.40,389.10 198.20,386.60 205.60,385.20 211.70,380.50 217.90,376.80 225.20,375.60 233.80,374.40 239.90,369.40 248.50,362.10 255.90,354.70 262.00,346.70 269.40,342.50 278.30,335.90 291.60,325.90 304.90,317.20 315.50,315.20 327.50,312.60 336.80,310.60 347.40,303.90 358.10,298.60 367.00,289.80 372.20,282.80 380.90,277.60 389.60,272.40 400.00,270.70 410.40,266.30 419.10,263.30 429.60,263.30 440.00,257.60 450.40,252.40 464.20,242.90 473.40,237.30 478.90,230.00 484.50,222.60 491.80,217.10 501.00,211.60 510.20,208.80 519.50,204.20 528.70,202.00 537.90,195.90 547.10,189.50 561.70,185.40 569.40,181.60 575.20,174.80 580.10,165.00 584.00,160.20 592.70,157.90 602.40,153.40 607.30,147.60 612.10,140.80 618.00,138.40 627.70,133.00 635.40,129.10 645.00,127.00 652.40,124.20 659.70,120.50 668.90,118.70 674.50,115.00 681.80,107.60 689.20,100.20 696.60,94.70 703.90,90.70 711.30,84.60 718.70,80.90 726.00,77.80 731.60,73.50 737.10,66.70 741.30,61.70 745.90,60.30 753.10,60.30 758.50,58.50 764.80,55.40 771.20,52.20 775.70,49.90 781.10,49.80 782.90,48.80 852.30,48.80"/>
<text transform="translate(101.02,404.04) rotate(-90)" font-size="14.5" fill="#000" stroke="#000" stroke-width="0.25">21</text>
<text transform="translate(119.44,310.82) rotate(-90)" font-size="14.5" fill="#000" stroke="#000" stroke-width="0.25">67</text>
<text transform="translate(137.86,284.48) rotate(-90)" font-size="14.5" fill="#000" stroke="#000" stroke-width="0.25">80</text>
<text transform="translate(156.29,357.43) rotate(-90)" font-size="14.5" fill="#000" stroke="#000" stroke-width="0.25">44</text>
<text transform="translate(174.71,306.77) rotate(-90)" font-size="14.5" fill="#000" stroke="#000" stroke-width="0.25">69</text>
<text transform="translate(193.13,412.15) rotate(-90)" font-size="14.5" fill="#000" stroke="#000" stroke-width="0.25">17</text>
<text transform="translate(211.55,408.10) rotate(-90)" font-size="14.5" fill="#000" stroke="#000" stroke-width="0.25">19</text>
<text transform="translate(229.98,399.99) rotate(-90)" font-size="14.5" fill="#000" stroke="#000" stroke-width="0.25">23</text>
<text transform="translate(248.40,308.80) rotate(-90)" font-size="14.5" fill="#000" stroke="#000" stroke-width="0.25">68</text>
<text transform="translate(266.82,258.14) rotate(-90)" font-size="14.5" fill="#000" stroke="#000" stroke-width="0.25">93</text>
<text transform="translate(285.24,322.98) rotate(-90)" font-size="14.5" fill="#000" stroke="#000" stroke-width="0.25">61</text>
<text transform="translate(303.67,308.80) rotate(-90)" font-size="14.5" fill="#000" stroke="#000" stroke-width="0.25">68</text>
<text transform="translate(322.09,404.04) rotate(-90)" font-size="14.5" fill="#000" stroke="#000" stroke-width="0.25">21</text>
<text transform="translate(340.51,399.99) rotate(-90)" font-size="14.5" fill="#000" stroke="#000" stroke-width="0.25">23</text>
<text transform="translate(358.93,383.78) rotate(-90)" font-size="14.5" fill="#000" stroke="#000" stroke-width="0.25">31</text>
<text transform="translate(377.36,183.16) rotate(-90)" font-size="14.5" fill="#000" stroke="#000" stroke-width="0.25">130</text>
<text transform="translate(395.78,333.12) rotate(-90)" font-size="14.5" fill="#000" stroke="#000" stroke-width="0.25">56</text>
<text transform="translate(414.20,373.65) rotate(-90)" font-size="14.5" fill="#000" stroke="#000" stroke-width="0.25">36</text>
<text transform="translate(432.62,432.41) rotate(-90)" font-size="14.5" fill="#000" stroke="#000" stroke-width="0.25">7</text>
<text transform="translate(451.05,343.25) rotate(-90)" font-size="14.5" fill="#000" stroke="#000" stroke-width="0.25">51</text>
<text transform="translate(469.47,276.37) rotate(-90)" font-size="14.5" fill="#000" stroke="#000" stroke-width="0.25">84</text>
<text transform="translate(487.89,160.86) rotate(-90)" font-size="14.5" fill="#000" stroke="#000" stroke-width="0.25">141</text>
<text transform="translate(506.31,341.22) rotate(-90)" font-size="14.5" fill="#000" stroke="#000" stroke-width="0.25">52</text>
<text transform="translate(524.74,333.12) rotate(-90)" font-size="14.5" fill="#000" stroke="#000" stroke-width="0.25">56</text>
<text transform="translate(543.16,306.77) rotate(-90)" font-size="14.5" fill="#000" stroke="#000" stroke-width="0.25">69</text>
<text transform="translate(561.58,391.88) rotate(-90)" font-size="14.5" fill="#000" stroke="#000" stroke-width="0.25">27</text>
<text transform="translate(580.00,270.29) rotate(-90)" font-size="14.5" fill="#000" stroke="#000" stroke-width="0.25">87</text>
<text transform="translate(598.42,420.26) rotate(-90)" font-size="14.5" fill="#000" stroke="#000" stroke-width="0.25">13</text>
<text transform="translate(616.85,168.97) rotate(-90)" font-size="14.5" fill="#000" stroke="#000" stroke-width="0.25">137</text>
<text transform="translate(635.27,316.90) rotate(-90)" font-size="14.5" fill="#000" stroke="#000" stroke-width="0.25">64</text>
<text transform="translate(653.69,424.31) rotate(-90)" font-size="14.5" fill="#000" stroke="#000" stroke-width="0.25">11</text>
<text transform="translate(672.11,404.04) rotate(-90)" font-size="14.5" fill="#000" stroke="#000" stroke-width="0.25">21</text>
<text transform="translate(690.54,272.32) rotate(-90)" font-size="14.5" fill="#000" stroke="#000" stroke-width="0.25">86</text>
<text transform="translate(708.96,329.06) rotate(-90)" font-size="14.5" fill="#000" stroke="#000" stroke-width="0.25">58</text>
<text transform="translate(727.38,381.75) rotate(-90)" font-size="14.5" fill="#000" stroke="#000" stroke-width="0.25">32</text>
<text transform="translate(745.80,258.14) rotate(-90)" font-size="14.5" fill="#000" stroke="#000" stroke-width="0.25">93</text>
<text transform="translate(764.23,416.20) rotate(-90)" font-size="14.5" fill="#000" stroke="#000" stroke-width="0.25">15</text>
<text transform="translate(782.65,357.43) rotate(-90)" font-size="14.5" fill="#000" stroke="#000" stroke-width="0.25">44</text>
<text transform="translate(856.34,444.57) rotate(-90)" font-size="14.5" fill="#000" stroke="#000" stroke-width="0.25">1</text>
<rect x="78.0" y="47.5" width="774.3" height="405.3" fill="none" stroke="#a8a8a8" stroke-width="1.5"/>
<text x="73.5" y="459.60" font-size="14" text-anchor="end" fill="#000" stroke="#000" stroke-width="0.2" transform="translate(73.5,0) scale(0.93,1) translate(-73.5,0)">0</text>
<text x="73.5" y="419.07" font-size="14" text-anchor="end" fill="#000" stroke="#000" stroke-width="0.2" transform="translate(73.5,0) scale(0.93,1) translate(-73.5,0)">400</text>
<text x="73.5" y="378.54" font-size="14" text-anchor="end" fill="#000" stroke="#000" stroke-width="0.2" transform="translate(73.5,0) scale(0.93,1) translate(-73.5,0)">800</text>
<text x="73.5" y="338.01" font-size="14" text-anchor="end" fill="#000" stroke="#000" stroke-width="0.2" transform="translate(73.5,0) scale(0.93,1) translate(-73.5,0)">1200</text>
<text x="73.5" y="297.48" font-size="14" text-anchor="end" fill="#000" stroke="#000" stroke-width="0.2" transform="translate(73.5,0) scale(0.93,1) translate(-73.5,0)">1600</text>
<text x="73.5" y="256.95" font-size="14" text-anchor="end" fill="#000" stroke="#000" stroke-width="0.2" transform="translate(73.5,0) scale(0.93,1) translate(-73.5,0)">2000</text>
<text x="73.5" y="216.42" font-size="14" text-anchor="end" fill="#000" stroke="#000" stroke-width="0.2" transform="translate(73.5,0) scale(0.93,1) translate(-73.5,0)">2400</text>
<text x="73.5" y="175.89" font-size="14" text-anchor="end" fill="#000" stroke="#000" stroke-width="0.2" transform="translate(73.5,0) scale(0.93,1) translate(-73.5,0)">2800</text>
<text x="73.5" y="135.36" font-size="14" text-anchor="end" fill="#000" stroke="#000" stroke-width="0.2" transform="translate(73.5,0) scale(0.93,1) translate(-73.5,0)">3200</text>
<text x="73.5" y="94.83" font-size="14" text-anchor="end" fill="#000" stroke="#000" stroke-width="0.2" transform="translate(73.5,0) scale(0.93,1) translate(-73.5,0)">3600</text>
<text x="73.5" y="54.30" font-size="14" text-anchor="end" fill="#000" stroke="#000" stroke-width="0.2" transform="translate(73.5,0) scale(0.93,1) translate(-73.5,0)">4000</text>
<text x="140.6" y="43.6" font-size="15.5" text-anchor="middle" fill="#000">2016</text>
<text x="249.3" y="43.6" font-size="15.5" text-anchor="middle" fill="#000">2017</text>
<text x="361" y="43.6" font-size="15.5" text-anchor="middle" fill="#000">2018</text>
<text x="471.9" y="43.6" font-size="15.5" text-anchor="middle" fill="#000">2019</text>
<text x="578.2" y="43.6" font-size="15.5" text-anchor="middle" fill="#000">2020</text>
<text x="691.5" y="43.6" font-size="15.5" text-anchor="middle" fill="#000">2021</text>
<text x="807.6" y="43.6" font-size="15.5" text-anchor="middle" fill="#000">2022</text>
<text transform="translate(34,360.3) rotate(-90)" font-size="18.15" fill="#000">Kuukausipalkkien kerroin 20</text>
<text transform="translate(32.3,496) rotate(-90)" font-size="18" fill="#cccccc">Geocache.fi</text>
<line x1="105.23" y1="452.8" x2="105.23" y2="469" stroke="#c8c8c8" stroke-width="1"/>
<text transform="translate(111.73,476.00) rotate(-45)" font-size="14" text-anchor="end" fill="#000">02/16</text>
<line x1="142.08" y1="452.8" x2="142.08" y2="469" stroke="#c8c8c8" stroke-width="1"/>
<text transform="translate(148.58,476.00) rotate(-45)" font-size="14" text-anchor="end" fill="#000">06/16</text>
<line x1="178.92" y1="452.8" x2="178.92" y2="469" stroke="#c8c8c8" stroke-width="1"/>
<text transform="translate(185.42,476.00) rotate(-45)" font-size="14" text-anchor="end" fill="#000">10/16</text>
<line x1="215.77" y1="452.8" x2="215.77" y2="469" stroke="#c8c8c8" stroke-width="1"/>
<text transform="translate(222.27,476.00) rotate(-45)" font-size="14" text-anchor="end" fill="#000">02/17</text>
<line x1="252.61" y1="452.8" x2="252.61" y2="469" stroke="#c8c8c8" stroke-width="1"/>
<text transform="translate(259.11,476.00) rotate(-45)" font-size="14" text-anchor="end" fill="#000">06/17</text>
<line x1="289.46" y1="452.8" x2="289.46" y2="469" stroke="#c8c8c8" stroke-width="1"/>
<text transform="translate(295.96,476.00) rotate(-45)" font-size="14" text-anchor="end" fill="#000">10/17</text>
<line x1="326.30" y1="452.8" x2="326.30" y2="469" stroke="#c8c8c8" stroke-width="1"/>
<text transform="translate(332.80,476.00) rotate(-45)" font-size="14" text-anchor="end" fill="#000">02/18</text>
<line x1="363.14" y1="452.8" x2="363.14" y2="469" stroke="#c8c8c8" stroke-width="1"/>
<text transform="translate(369.64,476.00) rotate(-45)" font-size="14" text-anchor="end" fill="#000">06/18</text>
<line x1="399.99" y1="452.8" x2="399.99" y2="469" stroke="#c8c8c8" stroke-width="1"/>
<text transform="translate(406.49,476.00) rotate(-45)" font-size="14" text-anchor="end" fill="#000">10/18</text>
<line x1="436.83" y1="452.8" x2="436.83" y2="469" stroke="#c8c8c8" stroke-width="1"/>
<text transform="translate(443.33,476.00) rotate(-45)" font-size="14" text-anchor="end" fill="#000">02/19</text>
<line x1="473.68" y1="452.8" x2="473.68" y2="469" stroke="#c8c8c8" stroke-width="1"/>
<text transform="translate(480.18,476.00) rotate(-45)" font-size="14" text-anchor="end" fill="#000">06/19</text>
<line x1="510.52" y1="452.8" x2="510.52" y2="469" stroke="#c8c8c8" stroke-width="1"/>
<text transform="translate(517.02,476.00) rotate(-45)" font-size="14" text-anchor="end" fill="#000">10/19</text>
<line x1="547.37" y1="452.8" x2="547.37" y2="469" stroke="#c8c8c8" stroke-width="1"/>
<text transform="translate(553.87,476.00) rotate(-45)" font-size="14" text-anchor="end" fill="#000">02/20</text>
<line x1="584.21" y1="452.8" x2="584.21" y2="469" stroke="#c8c8c8" stroke-width="1"/>
<text transform="translate(590.71,476.00) rotate(-45)" font-size="14" text-anchor="end" fill="#000">06/20</text>
<line x1="621.06" y1="452.8" x2="621.06" y2="469" stroke="#c8c8c8" stroke-width="1"/>
<text transform="translate(627.56,476.00) rotate(-45)" font-size="14" text-anchor="end" fill="#000">10/20</text>
<line x1="657.90" y1="452.8" x2="657.90" y2="469" stroke="#c8c8c8" stroke-width="1"/>
<text transform="translate(664.40,476.00) rotate(-45)" font-size="14" text-anchor="end" fill="#000">02/21</text>
<line x1="694.75" y1="452.8" x2="694.75" y2="469" stroke="#c8c8c8" stroke-width="1"/>
<text transform="translate(701.25,476.00) rotate(-45)" font-size="14" text-anchor="end" fill="#000">06/21</text>
<line x1="731.59" y1="452.8" x2="731.59" y2="469" stroke="#c8c8c8" stroke-width="1"/>
<text transform="translate(738.09,476.00) rotate(-45)" font-size="14" text-anchor="end" fill="#000">10/21</text>
<line x1="768.44" y1="452.8" x2="768.44" y2="469" stroke="#c8c8c8" stroke-width="1"/>
<text transform="translate(774.94,476.00) rotate(-45)" font-size="14" text-anchor="end" fill="#000">02/22</text>
<line x1="805.28" y1="452.8" x2="805.28" y2="469" stroke="#c8c8c8" stroke-width="1"/>
<text transform="translate(811.78,476.00) rotate(-45)" font-size="14" text-anchor="end" fill="#000">06/22</text>
<line x1="842.13" y1="452.8" x2="842.13" y2="469" stroke="#c8c8c8" stroke-width="1"/>
<text transform="translate(848.63,476.00) rotate(-45)" font-size="14" text-anchor="end" fill="#000">10/22</text>
</svg></body></html>
